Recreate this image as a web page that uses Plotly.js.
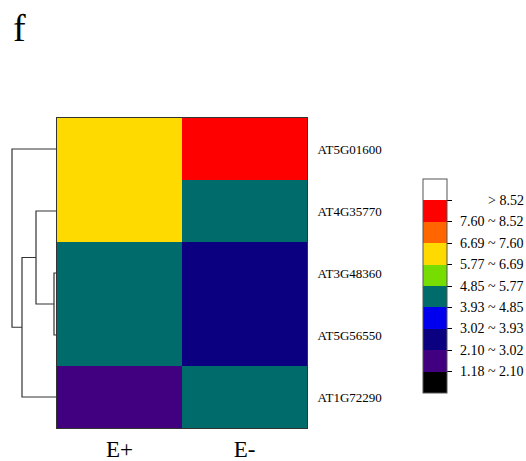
<!DOCTYPE html>
<html>
<head>
<meta charset="utf-8">
<script src="https://cdn.plot.ly/plotly-3.0.1.min.js"></script>
<style>html,body{margin:0;padding:0;background:#fff;}#chart{width:526px;height:461px;}</style>
</head>
<body>
<div id="chart"></div>
<script>
// ---- data ----
var genes = ['AT5G01600', 'AT4G35770', 'AT3G48360', 'AT5G56550', 'AT1G72290'];
var conditions = ['E+', 'E-'];
var valuesEplus  = [6.2, 6.2, 4.4, 4.4, 1.6];
var valuesEminus = [8.0, 4.4, 2.5, 2.5, 4.4];
// legend class boundaries (low -> high) and colours per class
var classBreaks = [0.26, 1.18, 2.10, 3.02, 3.93, 4.85, 5.77, 6.69, 7.60, 8.52, 9.44];
var classColors = ['#000000', '#400080', '#0A0080', '#0000EE', '#006B6B', '#77DD00', '#FFDA00', '#FF6600', '#FF0000', '#FFFFFF'];
var legendLabels = ['1.18 ~ 2.10', '2.10 ~ 3.02', '3.02 ~ 3.93', '3.93 ~ 4.85', '4.85 ~ 5.77', '5.77 ~ 6.69', '6.69 ~ 7.60', '7.60 ~ 8.52', '> 8.52'];
// dendrogram merges: [cluster a, cluster b, height]; leaves are 0..4 (row order), new clusters 5,6,7,8
var dendroMerges = [[2, 3, 3], [1, 5, 21], [6, 4, 35], [0, 7, 45]];

// ---- build ----
var serif = 'Liberation Serif, Times New Roman, serif';
var zmin = classBreaks[0], zmax = classBreaks[classBreaks.length - 1];
var colorscale = [];
for (var i = 0; i < classColors.length; i++) {
  colorscale.push([(classBreaks[i] - zmin) / (zmax - zmin), classColors[i]]);
  colorscale.push([(classBreaks[i + 1] - zmin) / (zmax - zmin), classColors[i]]);
}
var z = genes.map(function (g, i) { return [valuesEplus[i], valuesEminus[i]]; });
var rowIdx = genes.map(function (g, i) { return i; });

var heat = {
  type: 'heatmap', x: conditions, y: rowIdx, z: z,
  zmin: zmin, zmax: zmax, colorscale: colorscale, hoverinfo: 'skip',
  colorbar: {
    x: 1.3906, xanchor: 'left', xpad: 0,
    y: 0.458, yanchor: 'middle', ypad: 0,
    thickness: 24, lenmode: 'pixels', len: 214,
    outlinewidth: 1, outlinecolor: '#555',
    tickmode: 'array', tickvals: classBreaks.slice(1, classBreaks.length - 1),
    ticktext: legendLabels.map(function () { return ''; }),
    ticks: 'outside', ticklen: 5, tickwidth: 1, tickcolor: '#000'
  }
};

// dendrogram lines
var pos = {}, ht = {};
genes.forEach(function (g, i) { pos[i] = i; ht[i] = 0; });
var dx = [], dy = [];
dendroMerges.forEach(function (m, k) {
  var a = m[0], b = m[1], h = m[2], id = genes.length + k;
  dx.push(ht[a], h, h, ht[b], null);
  dy.push(pos[a], pos[a], pos[b], pos[b], null);
  pos[id] = (pos[a] + pos[b]) / 2; ht[id] = h;
});
var dendro = {
  type: 'scatter', mode: 'lines', x: dx, y: dy, xaxis: 'x2', yaxis: 'y',
  line: { color: '#333', width: 1.2 }, hoverinfo: 'skip', showlegend: false
};

// legend labels as annotations (right aligned)
var plotTop = 118, plotBottom = 428, cbTop = 179, cbBottom = 393;
var annotations = classBreaks.slice(1, classBreaks.length - 1).map(function (v, i) {
  var px = cbBottom - (v - zmin) / (zmax - zmin) * (cbBottom - cbTop);
  return {
    xref: 'paper', yref: 'paper', x: (526 - 10) / 297, y: (plotBottom - px) / (plotBottom - plotTop),
    xanchor: 'right', yanchor: 'middle', text: legendLabels[i], showarrow: false,
    font: { family: serif, size: 14, color: '#000' }
  };
});

var layout = {
  width: 526, height: 461,
  margin: { l: 10, r: 219, t: 118, b: 33, pad: 0 },
  paper_bgcolor: '#fff', plot_bgcolor: '#fff',
  showlegend: false,
  font: { family: serif, color: '#000' },
  title: {
    text: 'f', xref: 'container', yref: 'container', x: 13 / 526, xanchor: 'left',
    y: 1 - 28 / 461, yanchor: 'middle', font: { family: serif, size: 38, color: '#000' }
  },
  xaxis: {
    domain: [47 / 297, 1], anchor: 'y', type: 'category',
    showline: true, mirror: true, linecolor: '#333', linewidth: 1,
    ticks: '', showgrid: false, zeroline: false,
    tickfont: { family: serif, size: 23, color: '#000' }
  },
  yaxis: {
    anchor: 'x', side: 'right', autorange: 'reversed',
    tickmode: 'array', tickvals: rowIdx, ticktext: genes,
    showline: true, mirror: true, linecolor: '#333', linewidth: 1,
    ticks: '', ticklabelstandoff: 7, showgrid: false, zeroline: false,
    tickfont: { family: serif, size: 13, color: '#000' }
  },
  xaxis2: {
    domain: [0, 47 / 297], anchor: 'y', range: [47, 0],
    visible: false, showgrid: false, zeroline: false
  },
  annotations: annotations
};

Plotly.newPlot('chart', [heat, dendro], layout, { displayModeBar: false, staticPlot: true });
</script>
</body>
</html>
